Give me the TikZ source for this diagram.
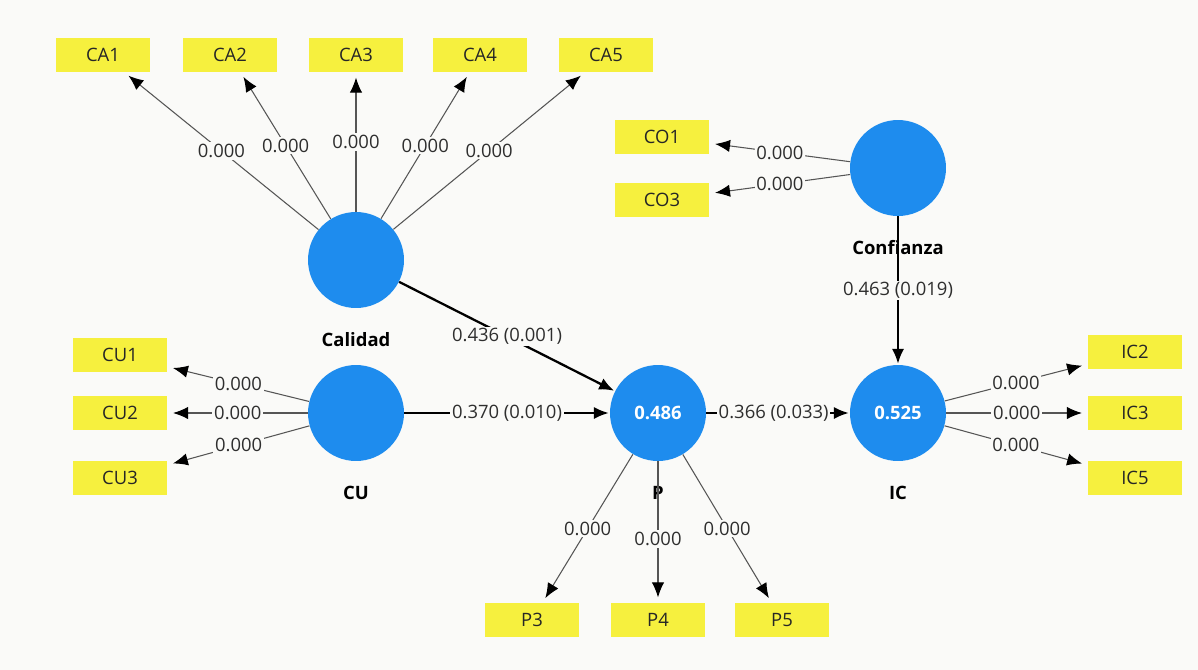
\documentclass[tikz,border=0pt]{standalone}
\usepackage{fontspec}
\setmainfont{Open Sans}
\usetikzlibrary{arrows.meta,positioning}
\definecolor{lvblue}{RGB}{30,140,238}
\definecolor{indyellow}{RGB}{246,240,62}
\definecolor{bg}{RGB}{250,250,248}
\definecolor{loadgrey}{RGB}{85,85,85}
\begin{document}
\begin{tikzpicture}[x=0.02cm,y=-0.02cm,
  lv/.style={circle, fill=lvblue, minimum size=1.92cm, inner sep=0pt, text=white, font=\bfseries\fontsize{10.5}{12}\selectfont},
  ind/.style={fill=indyellow, minimum width=1.9cm, minimum height=0.68cm, inner sep=0pt, text=black!85, font=\fontsize{10.5}{12}\selectfont},
  lvname/.style={inner sep=0pt, font=\bfseries\fontsize{10.5}{12}\selectfont},
  load/.style={draw=loadgrey, line width=0.6pt, -{Latex[length=8.5pt,width=7pt,color=black]}, shorten >=3pt},
  struct/.style={draw=black, line width=1.3pt, -{Latex[length=8.5pt,width=7pt]}, shorten >=0.5pt},
  wt/.style={fill=bg, inner sep=1pt, text=black!82, font=\fontsize{10.5}{12}\selectfont}]
\fill[bg] (0,0) rectangle (1198,670);
\useasboundingbox (0,0) rectangle (1198,670);

% latent variables
\node[lv] (cal) at (356,260) {};
\node[lv] (cu) at (356,413) {};
\node[lv] (p) at (658,413) {0.486};
\node[lv] (ic) at (898,413) {0.525};
\node[lv] (conf) at (898,168) {};

\node[lvname, below=0.48cm of cal] (calname) {Calidad};
\node[lvname, below=0.48cm of cu] (cuname) {CU};
\node[lvname, below=0.5cm of p] (pname) {P};
\node[lvname, below=0.48cm of ic] (icname) {IC};
\node[lvname, below=0.48cm of conf] (confname) {Confianza};

% indicators
\node[ind] (ca1) at (103,55) {CA1};
\node[ind] (ca2) at (230,55) {CA2};
\node[ind] (ca3) at (356,55) {CA3};
\node[ind] (ca4) at (480,55) {CA4};
\node[ind] (ca5) at (606,55) {CA5};
\node[ind] (co1) at (662,137) {CO1};
\node[ind] (co3) at (662,200) {CO3};
\node[ind] (cu1) at (120,355) {CU1};
\node[ind] (cu2) at (120,413) {CU2};
\node[ind] (cu3) at (120,478) {CU3};
\node[ind] (ic2) at (1135,352) {IC2};
\node[ind] (ic3) at (1135,413) {IC3};
\node[ind] (ic5) at (1135,478) {IC5};
\node[ind] (p3) at (532,620) {P3};
\node[ind] (p4) at (658,620) {P4};
\node[ind] (p5) at (782,620) {P5};

% outer loadings
\draw[load] (cal) -- node[wt] {0.000} (ca1);
\draw[load] (cal) -- node[wt] {0.000} (ca2);
\draw[load] (cal) -- node[wt] {0.000} (ca3);
\draw[load] (cal) -- node[wt] {0.000} (ca4);
\draw[load] (cal) -- node[wt] {0.000} (ca5);
\draw[load] (conf) -- node[wt] {0.000} (co1);
\draw[load] (conf) -- node[wt] {0.000} (co3);
\draw[load] (cu) -- node[wt] {0.000} (cu1);
\draw[load] (cu) -- node[wt] {0.000} (cu2);
\draw[load] (cu) -- node[wt] {0.000} (cu3);
\draw[load] (ic) -- node[wt] {0.000} (ic2);
\draw[load] (ic) -- node[wt] {0.000} (ic3);
\draw[load] (ic) -- node[wt] {0.000} (ic5);
\draw[load] (p) -- node[wt] {0.000} (p3);
\draw[load] (p) -- node[wt, pos=0.55] {0.000} (p4);
\draw[load] (p) -- node[wt] {0.000} (p5);

% inner model
\draw[struct] (cal) -- node[wt] {0.436 (0.001)} (p);
\draw[struct] (cu) -- node[wt] {0.370 (0.010)} (p);
\draw[struct] (p) -- node[wt, pos=0.47] {0.366 (0.033)} (ic);
\draw[struct] (conf) -- node[wt] {0.463 (0.019)} (ic);
\end{tikzpicture}
\end{document}
